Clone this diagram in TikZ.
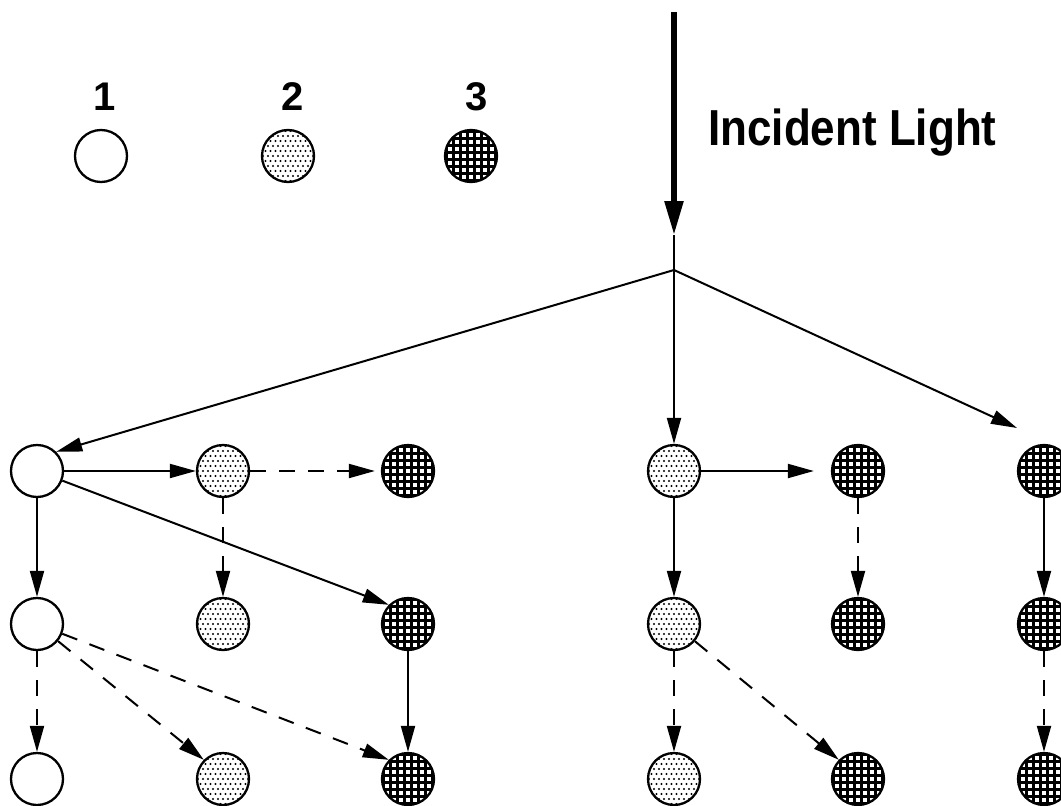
\documentclass[tikz,border=0pt]{standalone}
\usepackage{fontspec}
\setmainfont{Liberation Sans}
\usetikzlibrary{arrows.meta}
\begin{document}
\begin{tikzpicture}[x=1pt,y=-1pt,
  ball/.style={circle, draw, line width=2.3pt, minimum size=52pt, inner sep=0pt, fill=white},
  ballA/.style={ball},
  ballB/.style={ball, path picture={
      \foreach \i in {-6,...,6} \foreach \j in {-6,...,6} {
        \fill[black] ([shift={({5*\i+2.5*mod(\j,2)},{5*\j})}]path picture bounding box.center) circle (1.1pt);}}},
  ballC/.style={ball, path picture={
      \foreach \k in {-4,...,4} {
        \draw[black, line width=2.1pt] ([shift={({7*\k-3.5},-30)}]path picture bounding box.center) -- ([shift={({7*\k-3.5},30)}]path picture bounding box.center);
        \draw[black, line width=2.1pt] ([shift={(-30,{7*\k-3.5})}]path picture bounding box.center) -- ([shift={(30,{7*\k-3.5})}]path picture bounding box.center);}}},
  arr/.style={line width=2pt, -{Triangle[length=26pt,width=14pt]}},
  darr/.style={arr, dash pattern=on 16pt off 13pt},
  lbl/.style={font=\bfseries\fontsize{40}{40}\selectfont, inner sep=0pt}
]
\path[use as bounding box] (0,0) rectangle (1061,806);

% legend
\node[lbl] (n1) at (105,97) {1};
\node[lbl] (n2) at (293,97) {2};
\node[lbl] (n3) at (477,97) {3};
\node[ballA] (L1) at (101,156) {};
\node[ballB] (L2) at (288,156) {};
\node[ballC] (L3) at (471,156) {};

% incident light
\coordinate (top) at (674,12);
\coordinate (tipI) at (674,235);
\coordinate (J) at (674,270);
\draw[line width=5.5pt, -{Triangle[length=34pt,width=18pt]}] (top) -- (tipI);
\draw[line width=2pt] (tipI) -- (J);
\node[font=\bfseries\fontsize{44}{44}\selectfont, anchor=base west, inner sep=0pt] (inc) at (708,145) {\scalebox{1}[1.15]{Incident Light}};

% nodes
\node[ballA] (A1) at (37,471) {};
\node[ballB] (B1) at (223,471) {};
\node[ballC] (C1) at (408,471) {};
\node[ballA] (A2) at (37,624) {};
\node[ballB] (B2) at (223,624) {};
\node[ballC] (C2) at (408,624) {};
\node[ballA] (A3) at (37,779) {};
\node[ballB] (B3) at (223,779) {};
\node[ballC] (C3) at (408,779) {};

\node[ballB] (D1) at (674,471) {};
\node[ballC] (E1) at (858,471) {};
\node[ballC] (F1) at (1044,471) {};
\node[ballB] (D2) at (674,624) {};
\node[ballC] (E2) at (858,624) {};
\node[ballC] (F2) at (1044,624) {};
\node[ballB] (D3) at (674,779) {};
\node[ballC] (E3) at (858,779) {};
\node[ballC] (F3) at (1044,779) {};

\coordinate (fTip) at (1017,428);

% connectors
\draw[arr] (J) -- (A1.north east);
\draw[arr] (J) -- (D1);
\draw[arr] (J) -- (fTip);
\draw[arr] (A1) -- (B1);
\draw[darr, shorten >=6pt] (B1) -- (C1);
\draw[arr] (A1) -- (C2.north west);
\draw[arr] (A1) -- (A2);
\draw[darr] (B1) -- (B2);
\draw[darr] (A2) -- (A3);
\draw[darr] (A2) -- (B3.north west);
\draw[darr] (A2) -- (C3.north west);
\draw[arr] (C2) -- (C3);
\draw[arr, shorten >=17pt] (D1) -- (E1);
\draw[arr] (D1) -- (D2);
\draw[darr] (E1) -- (E2);
\draw[darr] (D2) -- (D3);
\draw[darr] (D2) -- (E3.north west);
\draw[arr] (F1) -- (F2);
\draw[darr] (F2) -- (F3);
\end{tikzpicture}
\end{document}
